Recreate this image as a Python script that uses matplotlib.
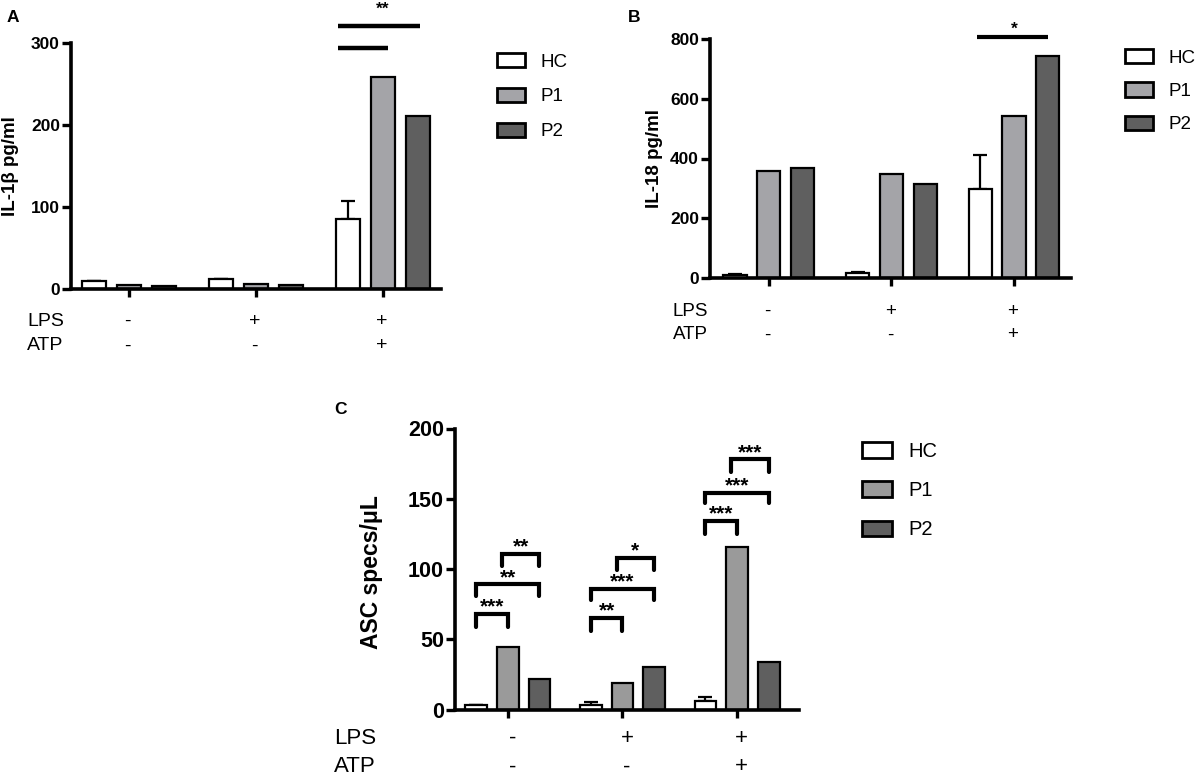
import matplotlib
matplotlib.use('Agg')
import matplotlib.pyplot as plt
import matplotlib.transforms as mtransforms
from matplotlib.patches import Patch
import numpy as np

plt.rcParams['font.family'] = ['Liberation Sans', 'DejaVu Sans']

# ---- data ----
groups = ['G1', 'G2', 'G3']
lps = ['-', '+', '+']
atp = ['-', '-', '+']
series = ['HC', 'P1', 'P2']

il1b_hc = [10, 13, 86]
il1b_hc_err = [0, 0, 21]
il1b_p1 = [5, 6.5, 258]
il1b_p2 = [4, 5, 211]

il18_hc = [9, 16, 298]
il18_hc_err = [2, 3, 114]
il18_p1 = [359, 348, 542]
il18_p2 = [369, 313, 744]

asc_hc = [3.3, 3, 6.2]
asc_hc_err = [0, 2.5, 2.8]
asc_p1 = [44.5, 18.8, 116]
asc_p2 = [21.8, 30.5, 33.5]

# brackets for panel C: (group, series_a, series_b, top, leg bottom, label)
asc_brackets = [
    (0, 0, 1, 68, 58.5, '***'), (0, 0, 2, 89, 81, '**'), (0, 1, 2, 111, 102, '**'),
    (1, 0, 1, 65, 56, '**'), (1, 0, 2, 86, 78, '***'), (1, 1, 2, 108, 99, '*'),
    (2, 0, 1, 134, 125, '***'), (2, 0, 2, 154, 147, '***'), (2, 1, 2, 178, 169, '***'),
]

W, H = 1196, 779
fig = plt.figure(figsize=(W / 100, H / 100), dpi=100)

OFF = 0.276
BW = 0.19
EDGE = 1.6


def rect(left, top, right, bottom):
    return [left / W, 1 - bottom / H, (right - left) / W, (bottom - top) / H]


def style_axis(ax, ylim, yticks, xlim, tick_fs):
    ax.set_ylim(*ylim)
    ax.set_xlim(*xlim)
    ax.set_yticks(yticks)
    ax.set_xticks(np.arange(len(groups)))
    ax.set_xticklabels([])
    for s in ['top', 'right']:
        ax.spines[s].set_visible(False)
    for s in ['left', 'bottom']:
        ax.spines[s].set_linewidth(2.6)
    ax.tick_params(axis='y', direction='out', length=6.5, width=2.4, pad=1.5, labelsize=tick_fs)
    ax.tick_params(axis='x', direction='out', length=6, width=2.4)
    for lab in ax.get_yticklabels():
        lab.set_fontweight('bold')


def draw_bars(ax, hc, hc_err, p1, p2, p1_color):
    x = np.arange(len(groups))
    colors = ['white', p1_color, '#5f5f5f']
    for i, vals in enumerate([hc, p1, p2]):
        ax.bar(x + (i - 1) * OFF, vals, width=BW, color=colors[i],
               edgecolor='black', linewidth=EDGE, zorder=2)
    errs = np.array(hc_err)
    ax.errorbar(x - OFF, hc, yerr=[np.zeros_like(errs), errs], fmt='none',
                ecolor='black', elinewidth=EDGE, capsize=5, capthick=EDGE, zorder=1)
    return colors


def draw_conditions(ax, x_label, y_lps, y_atp, fs, dx):
    tr = mtransforms.blended_transform_factory(ax.transData, fig.transFigure)
    fig.text(x_label / W, 1 - y_lps / H, 'LPS', fontsize=fs, ha='left', va='center')
    fig.text(x_label / W, 1 - y_atp / H, 'ATP', fontsize=fs, ha='left', va='center')
    for i in range(len(groups)):
        ax.text(i + dx, 1 - y_lps / H, lps[i], transform=tr, fontsize=fs, ha='center', va='center')
        ax.text(i + dx, 1 - y_atp / H, atp[i], transform=tr, fontsize=fs, ha='center', va='center')


def draw_legend(ax, colors, x, y_top, fs, hl, hh, spacing):
    handles = [Patch(facecolor=c, edgecolor='black', linewidth=2) for c in colors]
    ax.legend(handles, series, loc='upper left', bbox_to_anchor=(x / W, 1 - y_top / H),
              bbox_transform=fig.transFigure, frameon=False, fontsize=fs,
              handlelength=hl, handleheight=hh, handletextpad=0.8,
              labelspacing=spacing, borderpad=0, borderaxespad=0)


# ---- panel A ----
axA = fig.add_axes(rect(71, 42.7, 441, 289.3))
colA = draw_bars(axA, il1b_hc, il1b_hc_err, il1b_p1, il1b_p2, '#a4a4a8')
style_axis(axA, (0, 300), [0, 100, 200, 300], (-0.457, 2.457), 12.5)
axA.set_ylabel('IL-1β pg/ml', fontsize=13.5, fontweight='bold')
axA.yaxis.set_label_coords(-0.14, 0.5)
axA.plot([1.645, 2.29], [320, 320], color='black', lw=3.2, clip_on=False, solid_capstyle='butt')
axA.plot([1.645, 2.04], [293, 293], color='black', lw=3.2, clip_on=False, solid_capstyle='butt')
axA.text(2.0, 335, '**', fontsize=12.5, fontweight='bold', ha='center', va='baseline', clip_on=False)
draw_conditions(axA, 27, 321, 346, 14, -0.01)
draw_legend(axA, colA, 497, 53, 13.5, 1.5, 0.8, 0.91)
fig.text(7 / W, 1 - 18 / H, 'A', fontsize=12.5, fontweight='bold', ha='left', va='center')

# ---- panel B ----
axB = fig.add_axes(rect(710, 39.3, 1071, 277.7))
colB = draw_bars(axB, il18_hc, il18_hc_err, il18_p1, il18_p2, '#a4a4a8')
style_axis(axB, (0, 800), [0, 200, 400, 600, 800], (-0.48, 2.465), 12.5)
axB.set_ylabel('IL-18 pg/ml', fontsize=13.5, fontweight='bold')
axB.yaxis.set_label_coords(-0.13, 0.5)
axB.plot([1.70, 2.28], [807, 807], color='black', lw=3, clip_on=False, solid_capstyle='butt')
axB.text(2.0, 818, '*', fontsize=12.5, fontweight='bold', ha='center', va='baseline', clip_on=False)
draw_conditions(axB, 673, 311, 335, 13.5, -0.01)
draw_legend(axB, colB, 1125, 49, 13.5, 1.5, 0.8, 0.83)
fig.text(628 / W, 1 - 17 / H, 'B', fontsize=12.5, fontweight='bold', ha='left', va='center')

# ---- panel C ----
axC = fig.add_axes(rect(455, 428.5, 799, 709.5))
colC = draw_bars(axC, asc_hc, asc_hc_err, asc_p1, asc_p2, '#9a9a9a')
style_axis(axC, (0, 200), [0, 50, 100, 150, 200], (-0.46, 2.54), 15.5)
axC.set_ylabel('ASC specs/μL', fontsize=16.5, fontweight='bold')
axC.yaxis.set_label_coords(-0.21, 0.49)
for g, a, b, top, bot, lab in asc_brackets:
    xa = g + (a - 1) * OFF - (0.05 if a == 1 else 0)
    xb = g + (b - 1) * OFF
    axC.plot([xa, xa, xb, xb], [bot, top, top, bot], color='black', lw=3,
             clip_on=False, solid_joinstyle='miter', solid_capstyle='round')
    axC.text((xa + xb) / 2, top + 1.0, lab, fontsize=15, fontweight='bold',
             ha='center', va='baseline', clip_on=False)
draw_conditions(axC, 334, 738, 767, 16, 0.04)
draw_legend(axC, colC, 862, 442, 14.5, 1.5, 0.8, 1.0)
fig.text(334 / W, 1 - 410 / H, 'C', fontsize=12.5, fontweight='bold', ha='left', va='center')

fig.savefig('out.png', dpi=100, facecolor='white')
